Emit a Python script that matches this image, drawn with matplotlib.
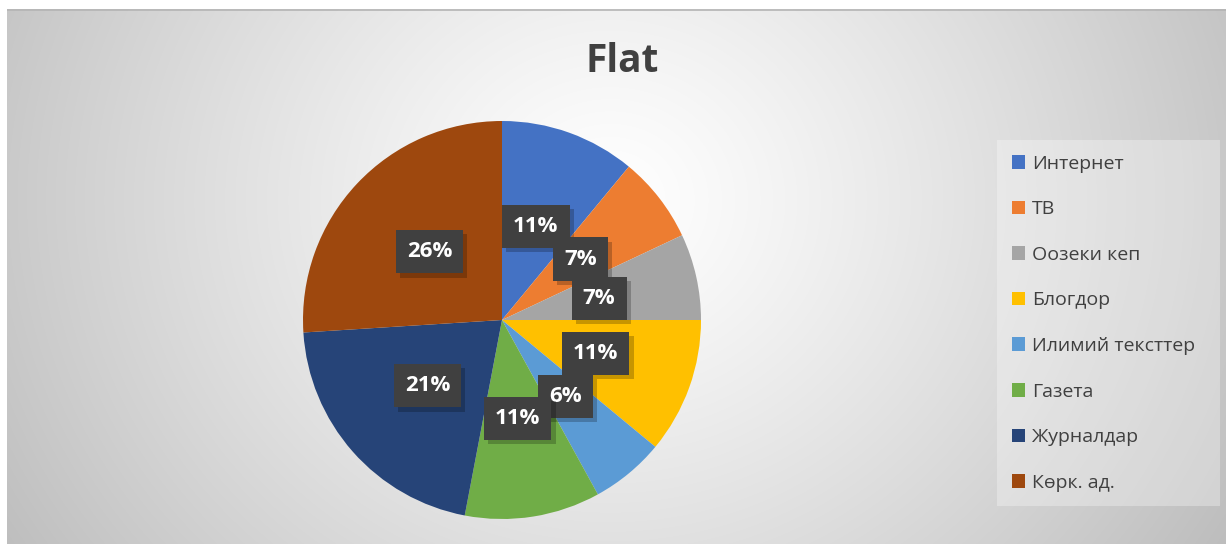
import numpy as np
import matplotlib
matplotlib.use("Agg")
import matplotlib.pyplot as plt
from matplotlib.patches import Patch
import matplotlib.patheffects as pe

plt.rcParams['font.family'] = ['Open Sans', 'DejaVu Sans']

title = "Flat"
categories = ["Интернет", "ТВ", "Оозеки кеп", "Блогдор", "Илимий тексттер",
              "Газета", "Журналдар", "Көрк. ад."]
values = [11, 7, 7, 11, 6, 11, 21, 26]
colors = ["#4472C4", "#ED7D31", "#A5A5A5", "#FFC000", "#5B9BD5",
          "#70AD47", "#264478", "#9E480E"]

W, H = 1226, 544
fig = plt.figure(figsize=(W / 100, H / 100), dpi=100)
fig.patch.set_facecolor("white")

# background radial gradient
left_m, top_m = 7, 9
bg = fig.add_axes([left_m / W, 0, 1 - left_m / W, 1 - top_m / H])
bg.set_axis_off()
ys, xs = np.mgrid[top_m:H, left_m:W]
d = np.sqrt((xs - 610.0) ** 2 + ((ys - 200.0) * 1.1) ** 2) / 640.0
d = np.clip(d, 0, 1.15)
g = 1.0 - (1.0 - 0xC6 / 255) * d ** 1.2
g = np.clip(g, 0.74, 1.0)
img = np.dstack([g, g, g])
bg.imshow(img, aspect='auto', extent=[0, 1, 0, 1], interpolation='bilinear')
bg.set_xlim(0, 1)
bg.set_ylim(0, 1)
bg.plot([0, 1], [0.998, 0.998], color="#b4b4b4", lw=1.2, transform=bg.transAxes)

# title
fig.text(622 / W, 1 - 62 / H, title, ha='center', va='center',
         fontsize=28, fontweight='bold', color='#404040')

# pie
cx, cy, R = 502, 320, 199
ax = fig.add_axes([(cx - R) / W, (H - cy - R) / H, 2 * R / W, 2 * R / H])
wedges, texts, autotexts = ax.pie(values, colors=colors, startangle=90,
                                  counterclock=False, radius=1,
                                  autopct='%1.0f%%', pctdistance=0.5,
                                  wedgeprops=dict(linewidth=0),
                                  textprops=dict(color='white', fontsize=16,
                                                 fontweight='bold'))
ax.set_xlim(-1, 1)
ax.set_ylim(-1, 1)
ax.set_aspect('equal')
ax.set_axis_off()
for t in autotexts:
    t.set_bbox(dict(boxstyle='square,pad=0.5', facecolor='#404040',
                    edgecolor='none'))
    t.get_bbox_patch().set_path_effects(
        [pe.withSimplePatchShadow(offset=(3, -3), shadow_rgbFace='black', alpha=0.22),
         pe.Normal()])

# legend
handles = [Patch(facecolor=c, edgecolor='none') for c in colors]
lx0, ly_top, lx1 = 997, 140, 1220
leg = fig.legend(handles, categories, loc='upper left',
                 bbox_to_anchor=(lx0 / W, 1 - ly_top / H, (lx1 - lx0) / W, 0.0001),
                 mode='expand', borderaxespad=0, fontsize=14,
                 handlelength=0.7, handleheight=0.7, handletextpad=0.35,
                 labelspacing=1.42, borderpad=0.75, frameon=True,
                 fancybox=False)
fr = leg.get_frame()
fr.set_facecolor('white')
fr.set_alpha(0.3)
fr.set_edgecolor('none')
for txt in leg.get_texts():
    txt.set_color('#404040')

fig.savefig("out.png", dpi=100)
